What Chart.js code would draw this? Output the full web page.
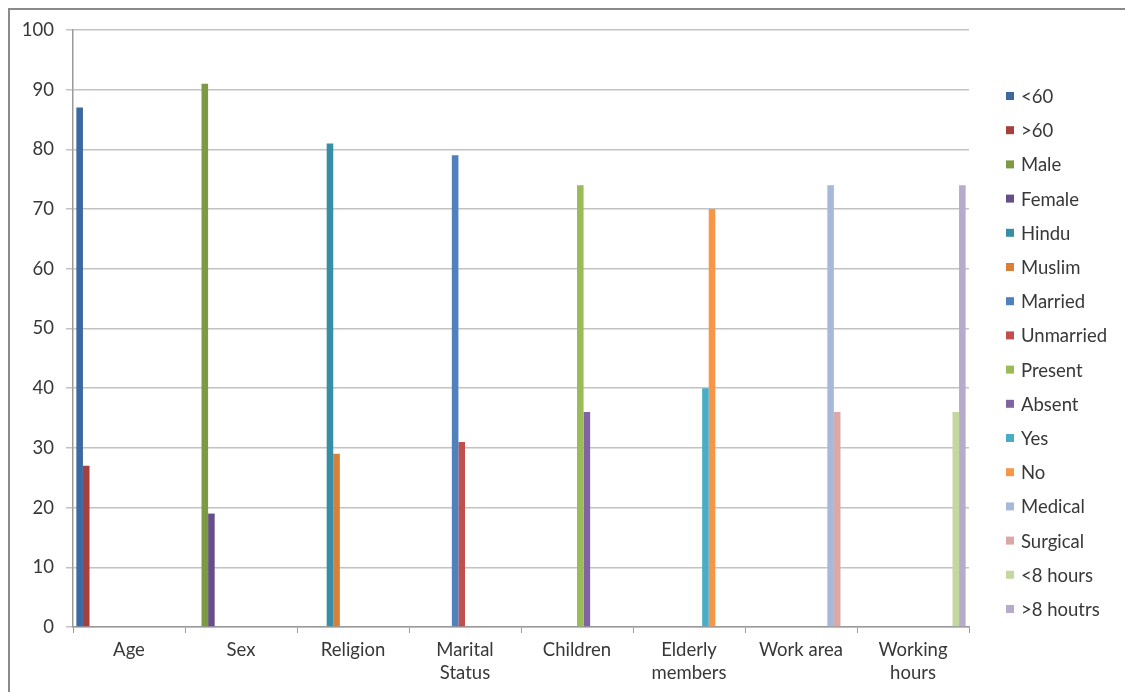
<!DOCTYPE html>
<html>
<head>
<meta charset="utf-8">
<script src="https://cdn.jsdelivr.net/npm/chart.js@4.4.1/dist/chart.umd.min.js"></script>
<style>
  html, body { margin: 0; padding: 0; background: #ffffff; }
  #wrap { width: 1125px; height: 692px; position: relative; }
</style>
</head>
<body>
<div id="wrap"><canvas id="chart" width="1125" height="692"></canvas></div>
<script>
// Survey profile: percentage of respondents per group
const categories = [
  'Age', 'Sex', 'Religion', ['Marital', 'Status'], 'Children',
  ['Elderly', 'members'], 'Work area', ['Working', 'hours']
];
const groupLabels = [
  '<60', '>60', 'Male', 'Female', 'Hindu', 'Muslim', 'Married', 'Unmarried',
  'Present', 'Absent', 'Yes', 'No', 'Medical', 'Surgical', '<8 hours', '>8 houtrs'
];
// which category each group belongs to (index into categories)
const groupCategory = [0, 0, 1, 1, 2, 2, 3, 3, 4, 4, 5, 5, 6, 6, 7, 7];
const groupValues = [87, 27, 91, 19, 81, 29, 79, 31, 74, 36, 40, 70, 74, 36, 36, 74];
const groupColors = [
  '#3C69A0', '#A5403D', '#7B9A43', '#664E88', '#388EA5', '#D7803A',
  '#4F81BD', '#C0504D', '#9BBB59', '#8064A2', '#4BACC6', '#F79646',
  '#A7B9DA', '#DAA8A7', '#C4D7A0', '#B7AACB'
];
const yTicks = [0, 10, 20, 30, 40, 50, 60, 70, 80, 90, 100];

const FONT = 'Lato, "Open Sans", "DejaVu Sans", sans-serif';
const TEXT = '#383838';

const datasets = groupLabels.map((label, i) => ({
  label,
  data: categories.map((_, c) => (c === groupCategory[i] ? groupValues[i] : null)),
  backgroundColor: groupColors[i],
  borderWidth: 0,
  categoryPercentage: 0.94,
  barPercentage: 1.0
}));

// Outer frame of the chart object
const framePlugin = {
  id: 'frame',
  beforeDraw(chart) {
    const ctx = chart.ctx;
    ctx.save();
    ctx.fillStyle = '#ffffff';
    ctx.fillRect(0, 0, chart.width, chart.height);
    ctx.strokeStyle = '#8a8a8a';
    ctx.lineWidth = 2;
    ctx.strokeRect(9, 9, chart.width + 20, chart.height + 20);
    ctx.restore();
  }
};

// Vertical legend on the right, one row per series
const sideLegend = {
  id: 'sideLegend',
  afterDraw(chart) {
    const ctx = chart.ctx;
    const x0 = 1006, y0 = 96, step = 34.2, box = 8;
    ctx.save();
    ctx.font = '18.5px ' + FONT;
    ctx.textBaseline = 'middle';
    ctx.textAlign = 'left';
    chart.data.datasets.forEach((ds, i) => {
      const y = y0 + i * step;
      ctx.fillStyle = ds.backgroundColor;
      ctx.fillRect(x0, y - box / 2, box, box);
      ctx.fillStyle = TEXT;
      ctx.fillText(ds.label, x0 + 15, y + 1);
    });
    ctx.restore();
  }
};

new Chart(document.getElementById('chart'), {
  type: 'bar',
  data: { labels: categories, datasets },
  plugins: [framePlugin, sideLegend],
  options: {
    responsive: false,
    animation: false,
    layout: { padding: { top: 30, right: 156, bottom: 0, left: 0 } },
    plugins: {
      legend: { display: false },
      tooltip: { enabled: false }
    },
    scales: {
      x: {
        grid: {
          display: true,
          offset: true,
          drawOnChartArea: false,
          drawTicks: true,
          tickLength: 6,
          color: '#9a9a9a',
          lineWidth: 1
        },
        border: { display: true, color: '#9a9a9a', width: 1.5 },
        ticks: {
          color: TEXT,
          font: { family: FONT, size: 18.5, lineHeight: 1.27 },
          padding: 5,
          maxRotation: 0,
          autoSkip: false
        },
        afterFit(scale) { scale.height = 65; }
      },
      y: {
        min: 0,
        max: 100,
        afterBuildTicks(scale) { scale.ticks = yTicks.map(v => ({ value: v })); },
        grid: {
          color: '#c2c2c2',
          lineWidth: 1.5,
          tickLength: 7,
          drawTicks: true
        },
        border: { display: true, color: '#9a9a9a', width: 1.5 },
        ticks: {
          color: TEXT,
          font: { family: FONT, size: 18.5 },
          padding: 12
        },
        afterFit(scale) { scale.width = 73; }
      }
    }
  }
});
</script>
</body>
</html>
